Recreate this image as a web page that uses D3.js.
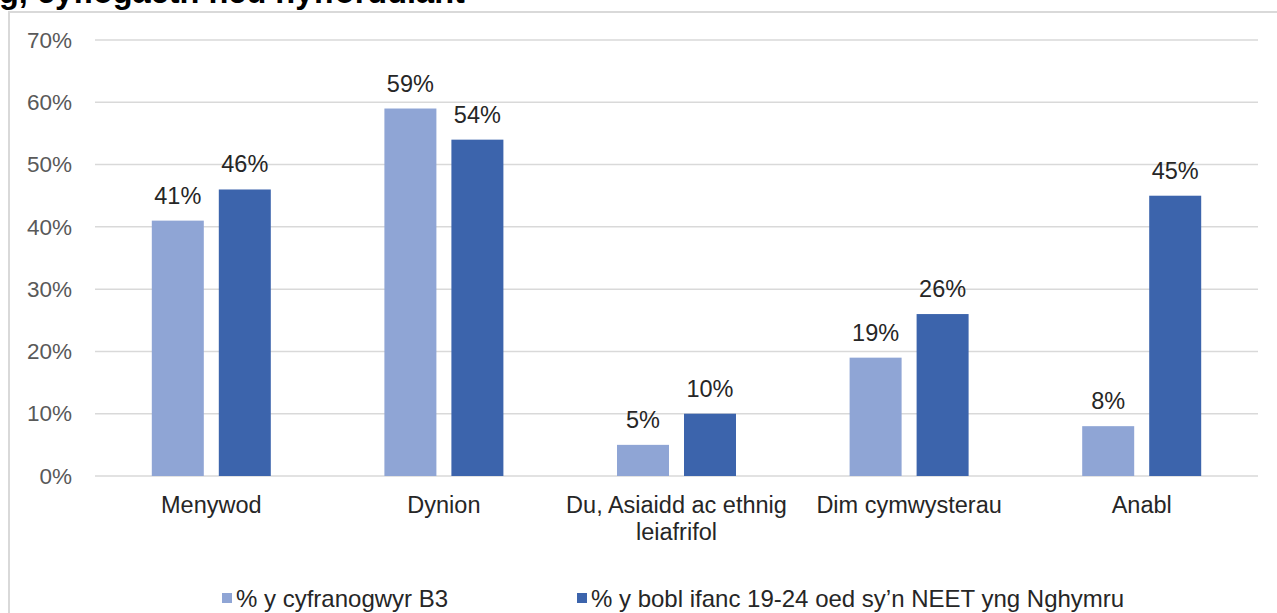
<!DOCTYPE html>
<html>
<head>
<meta charset="utf-8">
<script src="https://cdn.jsdelivr.net/npm/d3@7"></script>
<style>
  body { margin: 0; background: #fff; overflow: hidden; }
  svg { display: block; font-family: "Liberation Sans", Arial, sans-serif; }
</style>
</head>
<body>
<div id="chart"></div>
<script>
const categories = [
    ['Menywod'],
    ['Dynion'],
    ['Du, Asiaidd ac ethnig', 'leiafrifol'],
    ['Dim cymwysterau'],
    ['Anabl']
];
const seriesNames = ['% y cyfranogwyr B3', '% y bobl ifanc 19-24 oed sy\u2019n NEET yng Nghymru'];
const participants = [41, 59, 5, 19, 8];
const neetWales = [46, 54, 10, 26, 45];
const yTicks = [0, 10, 20, 30, 40, 50, 60, 70];
const titleText = 'g, cyflogaeth neu hyfforddiant';

const colors = ['#8FA5D5', '#3C64AC'];
const W = 1277, H = 613;
const margin = { top: 40, left: 95, right: 19, bottom: 137 };
const fontSize = '23.5px';

const svg = d3.select('#chart').append('svg')
    .attr('width', W)
    .attr('height', H);

// Title (cut off by the top of the frame, as in the source)
svg.append('text')
    .attr('x', -1)
    .attr('y', 3)
    .attr('font-size', '32.5px')
    .attr('font-weight', 'bold')
    .attr('fill', '#000')
    .text(titleText);

// Chart box border
svg.append('path')
    .attr('d', `M9,${H} V12 H${W}`)
    .attr('fill', 'none')
    .attr('stroke', '#d9d9d9')
    .attr('stroke-width', 2);

const plotW = W - margin.left - margin.right;
const plotH = H - margin.top - margin.bottom;

const chart = svg.append('g')
    .attr('transform', `translate(${margin.left}, ${margin.top})`);

const data = categories.map((c, i) => ({
    key: c.join(' '),
    lines: c,
    values: [participants[i], neetWales[i]]
}));

const xScale = d3.scaleBand()
    .domain(data.map(d => d.key))
    .range([0, plotW]);

const groupW = 119;
const xInner = d3.scaleBand()
    .domain(seriesNames)
    .range([xScale.bandwidth() / 2 - groupW / 2, xScale.bandwidth() / 2 + groupW / 2])
    .paddingInner(15 / 67);

const yScale = d3.scaleLinear()
    .domain([0, 70])
    .range([plotH, 0]);

// Gridlines
chart.selectAll('.grid')
    .data(yTicks)
    .enter()
    .append('line')
    .attr('class', 'grid')
    .attr('x1', 0)
    .attr('x2', plotW)
    .attr('y1', d => yScale(d))
    .attr('y2', d => yScale(d))
    .attr('stroke', '#d9d9d9')
    .attr('stroke-width', 1.5);

// Y axis labels
const yAxis = chart.append('g')
    .call(d3.axisLeft(yScale).tickValues(yTicks).tickFormat(d => d + '%').tickSize(0).tickPadding(23));
yAxis.select('.domain').remove();
yAxis.selectAll('text')
    .attr('font-size', '22.5px')
    .attr('font-family', '"Liberation Sans", Arial, sans-serif')
    .attr('fill', '#595959');

// Bars
const groups = chart.selectAll('.cat')
    .data(data)
    .enter()
    .append('g')
    .attr('class', 'cat')
    .attr('transform', d => `translate(${xScale(d.key)}, 0)`);

const cells = groups.selectAll('.bar')
    .data(d => d.values.map((v, j) => ({ name: seriesNames[j], value: v, idx: j })))
    .enter();

cells.append('rect')
    .attr('class', 'bar')
    .attr('x', d => xInner(d.name))
    .attr('y', d => yScale(d.value))
    .attr('width', xInner.bandwidth())
    .attr('height', d => plotH - yScale(d.value))
    .attr('fill', d => colors[d.idx]);

cells.append('text')
    .attr('x', d => xInner(d.name) + xInner.bandwidth() / 2)
    .attr('y', d => yScale(d.value) - 17)
    .attr('text-anchor', 'middle')
    .attr('font-size', fontSize)
    .attr('fill', '#262626')
    .text(d => d.value + '%');

// Category labels
groups.append('text')
    .attr('text-anchor', 'middle')
    .attr('font-size', fontSize)
    .attr('fill', '#262626')
    .selectAll('tspan')
    .data(d => d.lines)
    .enter()
    .append('tspan')
    .attr('x', xScale.bandwidth() / 2)
    .attr('y', (d, i) => plotH + 37 + i * 27)
    .text(d => d);

// Legend
const legendX = [222, 577];
const legend = svg.selectAll('.legend')
    .data(seriesNames)
    .enter()
    .append('g')
    .attr('class', 'legend')
    .attr('transform', (d, i) => `translate(${legendX[i]}, 598)`);

legend.append('rect')
    .attr('x', 0)
    .attr('y', -5)
    .attr('width', 10)
    .attr('height', 10)
    .attr('fill', (d, i) => colors[i]);

legend.append('text')
    .attr('x', 14)
    .attr('y', 9)
    .attr('font-size', '24px')
    .attr('fill', '#262626')
    .text(d => d);
</script>
</body>
</html>
